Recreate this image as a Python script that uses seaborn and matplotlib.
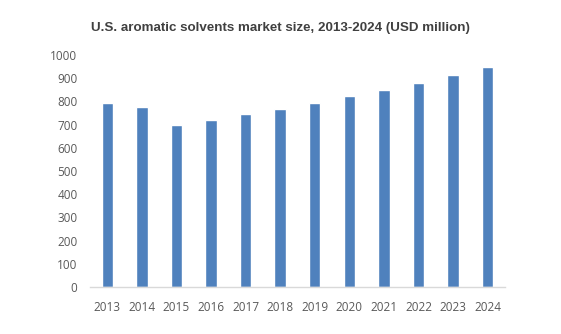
import matplotlib
matplotlib.use("Agg")
import matplotlib.pyplot as plt
import seaborn as sns
import pandas as pd

years = ["2013", "2014", "2015", "2016", "2017", "2018", "2019", "2020", "2021", "2022", "2023", "2024"]
values = [794, 777, 698, 720, 746, 767, 794, 823, 849, 879, 914, 948]

df = pd.DataFrame({"year": years, "value": values})

sns.set_theme(style="white")
plt.rcParams["font.family"] = ["Liberation Sans", "DejaVu Sans"]

fig = plt.figure(figsize=(5.61, 3.34), dpi=100)
ax = fig.add_axes([0.1604, 0.1407, 0.7396, 0.6946])
sns.barplot(data=df, x="year", y="value", color="#4F81BD", saturation=1, width=0.33, ax=ax)

ax.set_ylim(0, 1000)
ax.set_yticks(range(0, 1001, 100))
ax.set_xlim(-0.5, len(years) - 0.5)
ax.set_xlabel("")
ax.set_ylabel("")
for s in ["top", "right", "left"]:
    ax.spines[s].set_visible(False)
ax.spines["bottom"].set_color("#d9d9d9")
ax.spines["bottom"].set_linewidth(1)
ax.tick_params(axis="both", length=0, labelsize=8.5, labelcolor="#595959")
ax.tick_params(axis="y", pad=9)
ax.tick_params(axis="x", pad=10)
for lbl in ax.get_xticklabels() + ax.get_yticklabels():
    lbl.set_family(["Open Sans", "DejaVu Sans"])

fig.text(0.499, 0.915, "U.S. aromatic solvents market size, 2013-2024 (USD million)",
         ha="center", va="center", fontsize=9.6, fontweight="bold", color="#404040")

fig.savefig("out.png", dpi=100)
